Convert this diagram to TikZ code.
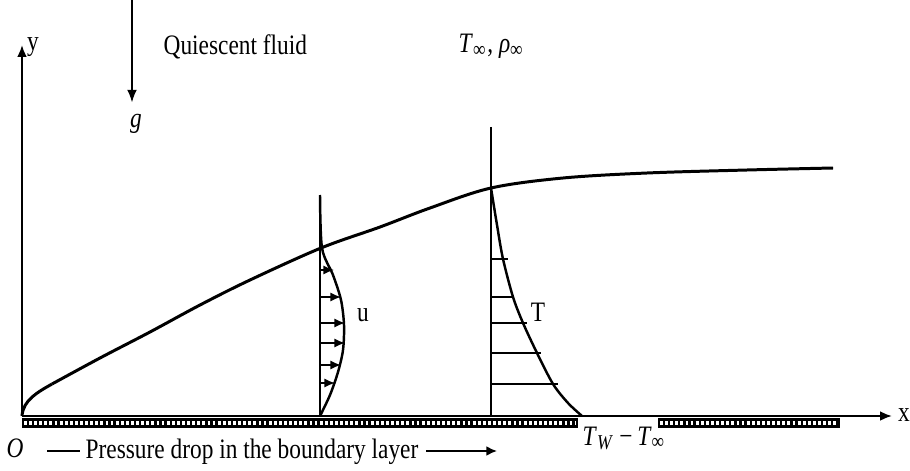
\documentclass[tikz,border=0pt]{standalone}
\usepackage{fontspec}
\setmainfont{Liberation Serif}[FakeStretch=0.83]
\usetikzlibrary{arrows.meta}
\begin{document}
\begin{tikzpicture}[x=0.01cm, y=-0.01cm, line join=round,
                    every node/.style={font=\fontsize{8}{9.6}\selectfont, inner sep=0pt},
                    axis/.style={line width=0.6pt, -{Latex[length=3.4pt,width=2.8pt]}},
                    layer/.style={line width=0.85pt},
                    profile/.style={line width=0.7pt},
                    uarrow/.style={line width=0.45pt, -{Latex[length=3pt,width=2.6pt]}},
                    tline/.style={line width=0.45pt},
                    platecells/.style={white, line width=0.9pt, dash pattern=on 0.8pt off 0.65pt}]
                    \useasboundingbox (0,0) rectangle (910,470);
                    \coordinate (origin) at (22,416);
                    \coordinate (x-end) at (892,416);
                    \coordinate (y-end) at (22,45);
                    \foreach \start/\stop in {22/578,658/840} {
                        \fill (\start,418) rectangle (\stop,428);
                        \draw[platecells] (\start+2,423) -- (\stop-2,423);
                    }
                    \draw[axis] (origin) -- (x-end);
                    \draw[axis] (origin) -- (y-end);
                    \node (x-label) at (904,415) {x};
                    \node (y-label) at (33,47) {y};
                    \node (origin-label) at (15,448) {\textit{O}};
                    % gravity and free stream
                    \coordinate (g-top) at (132,0);
                    \node (g-label) at (136,124) {\textit{g}};
                    \draw[line width=0.45pt, -{Latex[length=3.6pt,width=2.8pt]}, shorten >=3.2pt]
                        (g-top) -- (g-top |- g-label.north);
                    \node[anchor=base west] (fluid) at (163,55) {Quiescent fluid};
                    \node[anchor=base west] (free) at (458,53) {\textit{T}\textsubscript{∞}, \textit{ρ}\textsubscript{∞}};
                    % boundary layer edge
                    \draw[layer] (origin) .. controls (23,400) and (38,392) .. (52,384);
                    \draw[layer] plot[smooth, tension=0.55] coordinates {(52,384) (100,358)
                        (150,332) (200,305) (250,280) (321,248) (380,227) (430,208) (491,188) (563,178)
                        (647,173) (747,170) (833,168)};
                    % velocity profile
                    \coordinate (u-top) at (320,195);
                    \coordinate (u-base) at (320,416);
                    \draw[profile] (u-top) -- (u-base);
                    \draw[profile] plot[smooth] coordinates {(320,195) (322,248) (333,275) (341,300) (344,325)
                        (343,350) (338,372) (330,395) (320,416)};
                    \foreach \ypos/\tip in {270/334,297/341,323/345,343/345,365/341,383/335}
                        \draw[uarrow] (320,\ypos) -- (\tip,\ypos);
                    \node (u-label) at (363,315) {u};
                    % temperature profile
                    \coordinate (t-top) at (491,127);
                    \coordinate (t-base) at (491,416);
                    \draw[profile] (t-top) -- (t-base);
                    \draw[profile] plot[smooth] coordinates {(491,188) (497,225) (503,259) (513,297) (523,323)
                        (537,353) (553,384) (568,403) (582,416)};
                    \foreach \ypos/\len in {259/508,297/514,323/527,353/541,384/558}
                        \draw[tline] (491,\ypos) -- (\len,\ypos);
                    \node (t-label) at (538,312) {T};
                    \node[anchor=base west] (wall) at (582,445) {\textit{T}\textsubscript{\textit{W}}\,−\,\textit{T}\textsubscript{∞}};
                    % pressure drop
                    \node[anchor=base west] (pdrop) at (85,458) {Pressure drop in the boundary layer};
                    \coordinate (drop-a) at (47,451);
                    \coordinate (drop-b) at (497,451);
                    \draw[line width=0.55pt, shorten >=1.4pt] (drop-a) -- (drop-a -| pdrop.west);
                    \draw[line width=0.55pt, -{Latex[length=3pt,width=2.8pt]}, shorten <=2pt] (drop-b -| pdrop.east) -- (drop-b);
                \end{tikzpicture}
\end{document}
